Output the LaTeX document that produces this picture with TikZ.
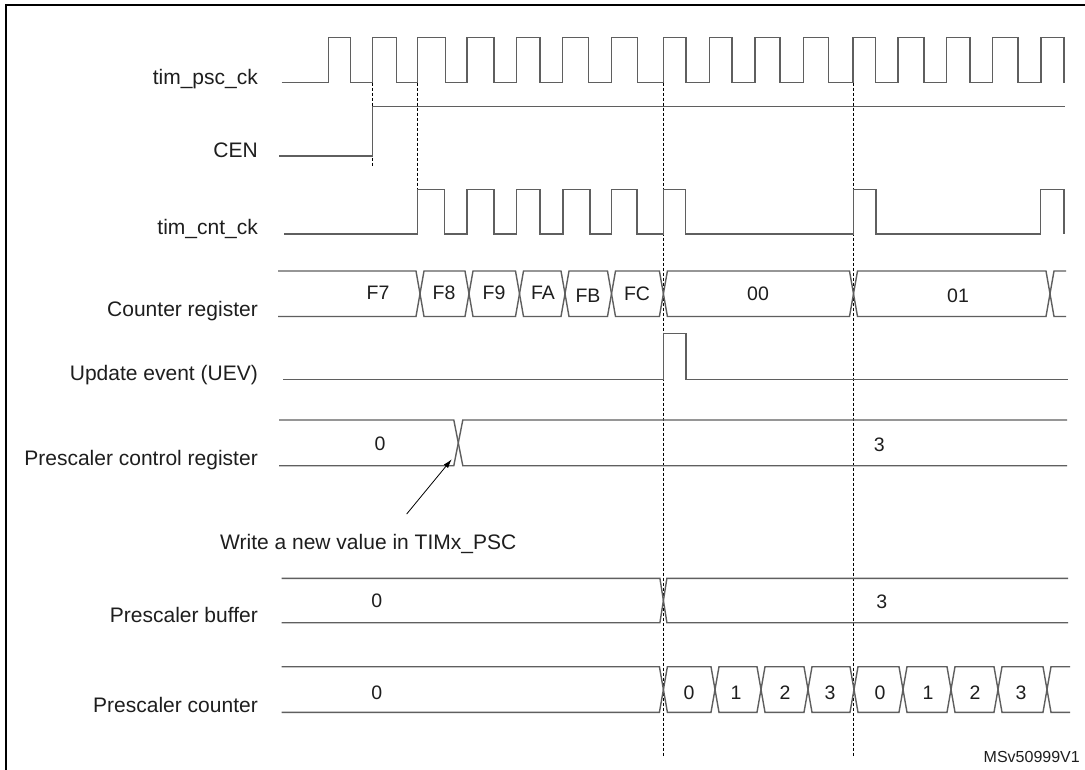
\documentclass[tikz,border=0pt]{standalone}
\usepackage{fontspec}
\setmainfont{Liberation Sans}
\usetikzlibrary{arrows.meta}
\definecolor{sigc}{RGB}{95,95,95}
\definecolor{txtc}{RGB}{30,30,30}
\newcommand\busseg[5]{\draw[sig] (#1,{(#3+#4)/2}) -- ({#1+#5},#3) -- ({#2-#5},#3) -- (#2,{(#3+#4)/2}) -- ({#2-#5},#4) -- ({#1+#5},#4) -- cycle;}
\begin{document}
\begin{tikzpicture}[x=1pt,y=-1pt,
  sig/.style={draw=sigc,line width=1.4pt,line join=miter},
  guide/.style={draw=black,line width=0.9pt,dash pattern=on 3pt off 2pt},
  lbl/.style={anchor=base east,inner sep=0pt,text=txtc,font=\fontsize{21}{25}\selectfont},
  val/.style={inner sep=0pt,text=txtc,font=\fontsize{19.5}{23}\selectfont},
  frame/.style={draw=black,line width=2.4pt}]
\useasboundingbox (0,0) rectangle (1085,769);
\clip (0,0) rectangle (1085,769);
\fill[white] (0,0) rectangle (1085,769);
% frame
\draw[frame] (6,780) -- (6,5) -- (1095,5);

% labels
\node[lbl] (Lpsc) at (258,84) {tim\_psc\_ck};
\node[lbl] (Lcen) at (258,157) {CEN};
\node[lbl] (Lcnt) at (258,234) {tim\_cnt\_ck};
\node[lbl] (Lreg) at (258,316) {Counter register};
\node[lbl] (Luev) at (258,380) {Update event (UEV)};
\node[lbl] (Lpcr) at (258,465.7) {Prescaler control register};
\node[lbl] (Lbuf) at (258,622.7) {Prescaler buffer};
\node[lbl] (Lpct) at (258,712) {Prescaler counter};

% dashed guides
\coordinate (g1a) at (372.3,82.7); \coordinate (g1b) at (372.3,165.7);
\coordinate (g2a) at (417.7,82.7); \coordinate (g2b) at (417.7,189.3);
\coordinate (g3a) at (663.4,82.7); \coordinate (g3b) at (663.4,757);
\coordinate (g4a) at (853.5,82.7); \coordinate (g4b) at (853.5,757);
\draw[guide] (g1a) -- (g1b);
\draw[guide] (g2a) -- (g2b);
\draw[guide] (g3a) -- (g3b);
\draw[guide] (g4a) -- (g4b);

% tim_psc_ck
\draw[sig] (281.7,82.7)
  \foreach \r/\f in {328.3/350.7,372.3/396.7,417.7/445.7,467/494,516.5/540,562.6/588.7,611.3/637.3,663.4/686,709.3/731.9,754.8/779.8,803.5/828.5,852.8/875.4,898/924,946.7/970,992.6/1018,1041/1064}
  { -- (\r,82.7) -- (\r,37.3) -- (\f,37.3) -- (\f,82.7) };

% CEN
\draw[sig] (279,156) -- (372.3,156) -- (372.3,106.7) -- (1065,106.7);

% tim_cnt_ck
\draw[sig] (284,234)
  \foreach \r/\f in {417.7/444.2,467/494,516.5/540,563/590,611.3/637,663.4/685.5,853.5/876,1040.5/1064}
  { -- (\r,234) -- (\r,189.3) -- (\f,189.3) -- (\f,234) };

% Counter register
\draw[sig] (278,271) -- (416,271) -- (420,293.75) -- (416,316.5) -- (278,316.5);
\foreach \a/\b in {420/469,469/519.5,519.5/565,565/611.5,611.5/663.4,663.4/853.5,853.5/1050}
  {\busseg{\a}{\b}{271}{316.5}{4}}
\draw[sig] (1066,271) -- (1054,271) -- (1050,293.75) -- (1054,316.5) -- (1066,316.5);
\node[val] (vF7) at (378,293) {F7};
\node[val] (vF8) at (444,293) {F8};
\node[val] (vF9) at (494,293) {F9};
\node[val] (vFA) at (543,293) {FA};
\node[val] (vFB) at (588,296) {FB};
\node[val] (vFC) at (637,294) {FC};
\node[val] (v00) at (758,294) {00};
\node[val] (v01) at (958,296) {01};

% UEV
\draw[sig] (283,379.3) -- (663.4,379.3) -- (663.4,333.3) -- (686,333.3) -- (686,379.3) -- (1067.7,379.3);

% Prescaler control register
\draw[sig] (279,420) -- (453.8,420) -- (458.3,442.85) -- (453.8,465.7) -- (279,465.7);
\draw[sig] (1067,420) -- (462.8,420) -- (458.3,442.85) -- (462.8,465.7) -- (1067,465.7);
\node[val] (vc0) at (380,444) {0};
\node[val] (vc3) at (879.3,444.3) {3};

% arrow and note
\coordinate (atail) at (406.7,514);
\coordinate (atip) at (451.7,459.3);
\draw[line width=0.8pt,-{Latex[length=9pt,width=5.5pt]}] (atail) -- (atip);
\node[anchor=base west,inner sep=0pt,text=txtc,font=\fontsize{21}{25}\selectfont] (note) at (220,549) {Write a new value in TIMx\_PSC};

% Prescaler buffer
\draw[sig] (281.7,578.3) -- (659.9,578.3) -- (663.4,600.5) -- (659.9,622.7) -- (281.7,622.7);
\draw[sig] (1068,578.3) -- (666.9,578.3) -- (663.4,600.5) -- (666.9,622.7) -- (1068,622.7);
\node[val] (vb0) at (376.7,601) {0};
\node[val] (vb3) at (881.7,601.7) {3};

% Prescaler counter
\draw[sig] (281.7,666.7) -- (659.4,666.7) -- (663.4,689.5) -- (659.4,712.3) -- (281.7,712.3);
\foreach \a/\b in {663.4/715,715/761,761/808,808/854,854/903,903/951,951/998,998/1047}
  {\busseg{\a}{\b}{666.7}{712.3}{4}}
\draw[sig] (1070,666.7) -- (1051,666.7) -- (1047,689.5) -- (1051,712.3) -- (1070,712.3);
\node[val] (vp0) at (376.7,692.3) {0};
\node[val] (vq0) at (689,692.3) {0};
\node[val] (vq1) at (736,692.3) {1};
\node[val] (vq2) at (785,692.3) {2};
\node[val] (vq3) at (830,692.3) {3};
\node[val] (vr0) at (880,692.3) {0};
\node[val] (vr1) at (928,692.3) {1};
\node[val] (vr2) at (975,692.3) {2};
\node[val] (vr3) at (1021,692.3) {3};

% figure id
\node[anchor=base east,inner sep=0pt,text=txtc,font=\fontsize{16}{19}\selectfont] (fid) at (1080,762) {MSv50999V1};
\end{tikzpicture}
\end{document}
